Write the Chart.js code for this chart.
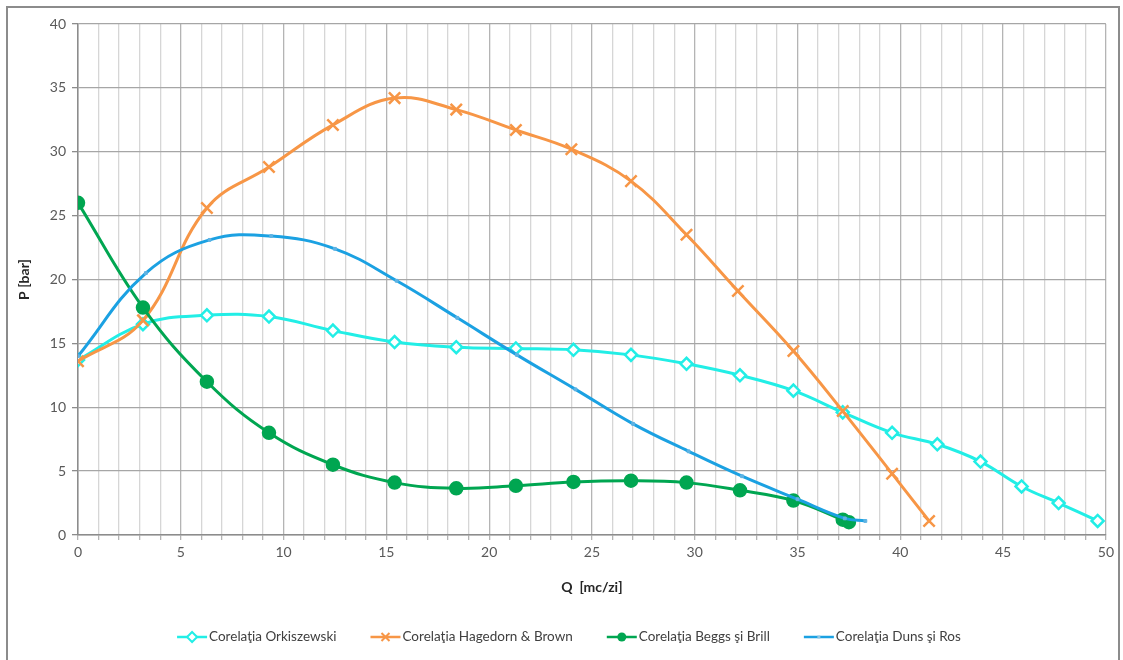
<!DOCTYPE html>
<html lang="ro">
<head>
<meta charset="UTF-8">
<title>Curbe P - Q</title>
<script src="https://cdn.jsdelivr.net/npm/chart.js"></script>
<style>
    body { margin: 0; background: #fff; overflow: hidden; }
    .frame {
        position: absolute; left: 6px; top: 6px;
        width: 1110px; height: 680px;
        border: 2px solid #8c8c8c; background: #fff;
    }
    .box { position: relative; width: 1110px; height: 650px; }
</style>
</head>
<body>
<div class="frame"><div class="box"><canvas id="chart"></canvas></div></div>
<script>
// Q [mc/zi] si P [bar]
const qOrk = [0, 3.16, 6.27, 9.29, 12.4, 15.4, 18.4, 21.3, 24.1, 26.9, 29.6, 32.2, 34.8, 37.2, 39.6, 41.8, 43.9, 45.9, 47.7, 49.6];
const pOrk = [13.7, 16.5, 17.2, 17.1, 16.0, 15.1, 14.7, 14.6, 14.5, 14.1, 13.4, 12.5, 11.3, 9.6, 8.0, 7.1, 5.75, 3.8, 2.5, 1.1];

const qHag = [0, 3.16, 6.27, 9.29, 12.4, 15.4, 18.4, 21.3, 24.0, 26.9, 29.6, 32.1, 34.8, 37.2, 39.6, 41.4];
const pHag = [13.6, 16.8, 25.6, 28.8, 32.1, 34.2, 33.3, 31.7, 30.2, 27.7, 23.5, 19.1, 14.4, 9.7, 4.8, 1.1];

const qBeg = [0, 3.16, 6.27, 9.29, 12.4, 15.4, 18.4, 21.3, 24.1, 26.9, 29.6, 32.2, 34.8, 37.2, 37.5];
const pBeg = [26.0, 17.8, 12.0, 8.0, 5.5, 4.1, 3.65, 3.85, 4.15, 4.25, 4.1, 3.5, 2.7, 1.2, 1.0];

const qDuns = [0, 3.3, 6.4, 9.4, 12.5, 15.5, 18.45, 21.35, 24.2, 27.0, 29.7, 32.3, 35.0, 37.3, 38.3];
const pDuns = [14.0, 20.5, 23.1, 23.4, 22.4, 19.9, 17.0, 14.1, 11.4, 8.7, 6.55, 4.6, 2.8, 1.3, 1.1];

const seriesNames = ['Corelaţia Orkiszewski', 'Corelaţia Hagedorn & Brown', 'Corelaţia Beggs şi Brill', 'Corelaţia Duns şi Ros'];
const xTicks = [0, 5, 10, 15, 20, 25, 30, 35, 40, 45, 50];
const yTicks = [0, 5, 10, 15, 20, 25, 30, 35, 40];

const FONT = "Lato, 'Open Sans', sans-serif";
const C_ORK = '#22EEE6', C_HAG = '#F79646', C_BEG = '#00A651', C_DUNS = '#1BA1E2';
const markerKinds = ['diamond', 'x', 'dot', 'rect'];

function toPts(xs, ys) {
    return xs.map((x, i) => ({ x: x, y: ys[i] }));
}

// legenda desenata ca in Excel: linie + marker, apoi textul
const excelLegend = {
    id: 'excelLegend',
    afterDraw(chart) {
        const ctx = chart.ctx;
        const ds = chart.data.datasets;
        const iconW = 30, gap = 34, textGap = 2;
        ctx.save();
        ctx.font = '13.5px ' + FONT;
        const widths = ds.map(d => iconW + textGap + ctx.measureText(d.label).width);
        const total = widths.reduce((a, b) => a + b, 0) + gap * (ds.length - 1);
        let x = (chart.chartArea.left + chart.chartArea.right) / 2 - 23 - total / 2;
        const y = chart.height - 21;
        ds.forEach((d, i) => {
            const color = d.borderColor;
            ctx.strokeStyle = color;
            ctx.lineWidth = 2.5;
            ctx.beginPath(); ctx.moveTo(x, y); ctx.lineTo(x + iconW, y); ctx.stroke();
            const cx = x + iconW / 2;
            ctx.lineWidth = 2;
            const k = markerKinds[i];
            if (k === 'diamond') {
                ctx.fillStyle = '#fff';
                ctx.beginPath();
                ctx.moveTo(cx, y - 5); ctx.lineTo(cx + 5, y); ctx.lineTo(cx, y + 5); ctx.lineTo(cx - 5, y);
                ctx.closePath(); ctx.fill(); ctx.stroke();
            } else if (k === 'x') {
                ctx.beginPath();
                ctx.moveTo(cx - 4, y - 4); ctx.lineTo(cx + 4, y + 4);
                ctx.moveTo(cx + 4, y - 4); ctx.lineTo(cx - 4, y + 4);
                ctx.stroke();
            } else if (k === 'dot') {
                ctx.fillStyle = color;
                ctx.beginPath(); ctx.arc(cx, y, 4.5, 0, Math.PI * 2); ctx.fill();
            } else {
                ctx.fillStyle = '#8fc7e6';
                ctx.fillRect(cx - 1.5, y - 1.5, 3, 3);
            }
            ctx.fillStyle = '#404040';
            ctx.textBaseline = 'middle';
            ctx.textAlign = 'left';
            ctx.fillText(d.label, x + iconW + textGap, y);
            x += widths[i] + gap;
        });
        ctx.restore();
    }
};

const common = { showLine: true, tension: 0.4, borderWidth: 3, pointBorderWidth: 2.5 };

new Chart(document.getElementById('chart'), {
    type: 'scatter',
    data: {
        datasets: [
            Object.assign({}, common, {
                label: seriesNames[0], data: toPts(qOrk, pOrk), order: 4,
                borderColor: C_ORK, pointBorderColor: C_ORK, pointBackgroundColor: '#fff',
                pointStyle: 'rectRot', pointRadius: 6
            }),
            Object.assign({}, common, {
                label: seriesNames[1], data: toPts(qHag, pHag), order: 3,
                borderColor: C_HAG, pointBorderColor: C_HAG, pointBackgroundColor: C_HAG,
                pointStyle: 'crossRot', pointRadius: 8
            }),
            Object.assign({}, common, {
                label: seriesNames[2], data: toPts(qBeg, pBeg), order: 2,
                borderColor: C_BEG, pointBorderColor: C_BEG, pointBackgroundColor: C_BEG,
                pointStyle: 'circle', pointRadius: 6
            }),
            Object.assign({}, common, {
                label: seriesNames[3], data: toPts(qDuns, pDuns), order: 1,
                borderColor: C_DUNS, pointBorderColor: '#5fb3e3', pointBackgroundColor: '#5fb3e3',
                pointStyle: 'rect', pointRadius: 2, pointBorderWidth: 1
            })
        ]
    },
    plugins: [excelLegend],
    options: {
        responsive: true,
        maintainAspectRatio: false,
        animation: false,
        layout: { padding: { left: 8, right: 4, top: 16, bottom: 58 } },
        plugins: {
            tooltip: { enabled: false },
            legend: { display: false }
        },
        scales: {
            x: {
                type: 'linear',
                min: 0, max: 50,
                afterFit: (s) => { s.height = 65; },
                afterBuildTicks: (s) => {
                    const t = [];
                    for (let v = 0; v <= 50; v++) t.push({ value: v });
                    s.ticks = t;
                },
                ticks: {
                    autoSkip: false,
                    maxRotation: 0,
                    color: '#595959',
                    padding: 4,
                    font: { family: FONT, size: 14 },
                    callback: (v) => xTicks.includes(v) ? String(v) : ''
                },
                grid: {
                    color: (ctx) => ctx.tick && ctx.tick.value % 5 === 0 ? '#b4b4b4' : '#d6d6d6',
                    lineWidth: 1.3,
                    tickLength: 5,
                    tickColor: '#b4b4b4'
                },
                border: { color: '#8c8c8c', width: 1.5 },
                title: {
                    display: true,
                    text: 'Q  [mc/zi]',
                    color: '#262626',
                    font: { family: FONT, size: 14, weight: 'bold' },
                    padding: { top: 4, bottom: 4 }
                }
            },
            y: {
                type: 'linear',
                min: 0, max: 40,
                afterFit: (s) => { s.width = 62; },
                afterBuildTicks: (s) => { s.ticks = yTicks.map(v => ({ value: v })); },
                ticks: {
                    color: '#595959',
                    padding: 6,
                    font: { family: FONT, size: 14 }
                },
                grid: {
                    color: '#a6a6a6',
                    lineWidth: 1.3,
                    tickLength: 6,
                    tickColor: '#8c8c8c'
                },
                border: { color: '#8c8c8c', width: 1.5 },
                title: {
                    display: true,
                    text: 'P [bar]',
                    color: '#262626',
                    font: { family: FONT, size: 14, weight: 'bold' },
                    padding: { top: 0, bottom: 0 }
                }
            }
        }
    }
});
</script>
</body>
</html>
